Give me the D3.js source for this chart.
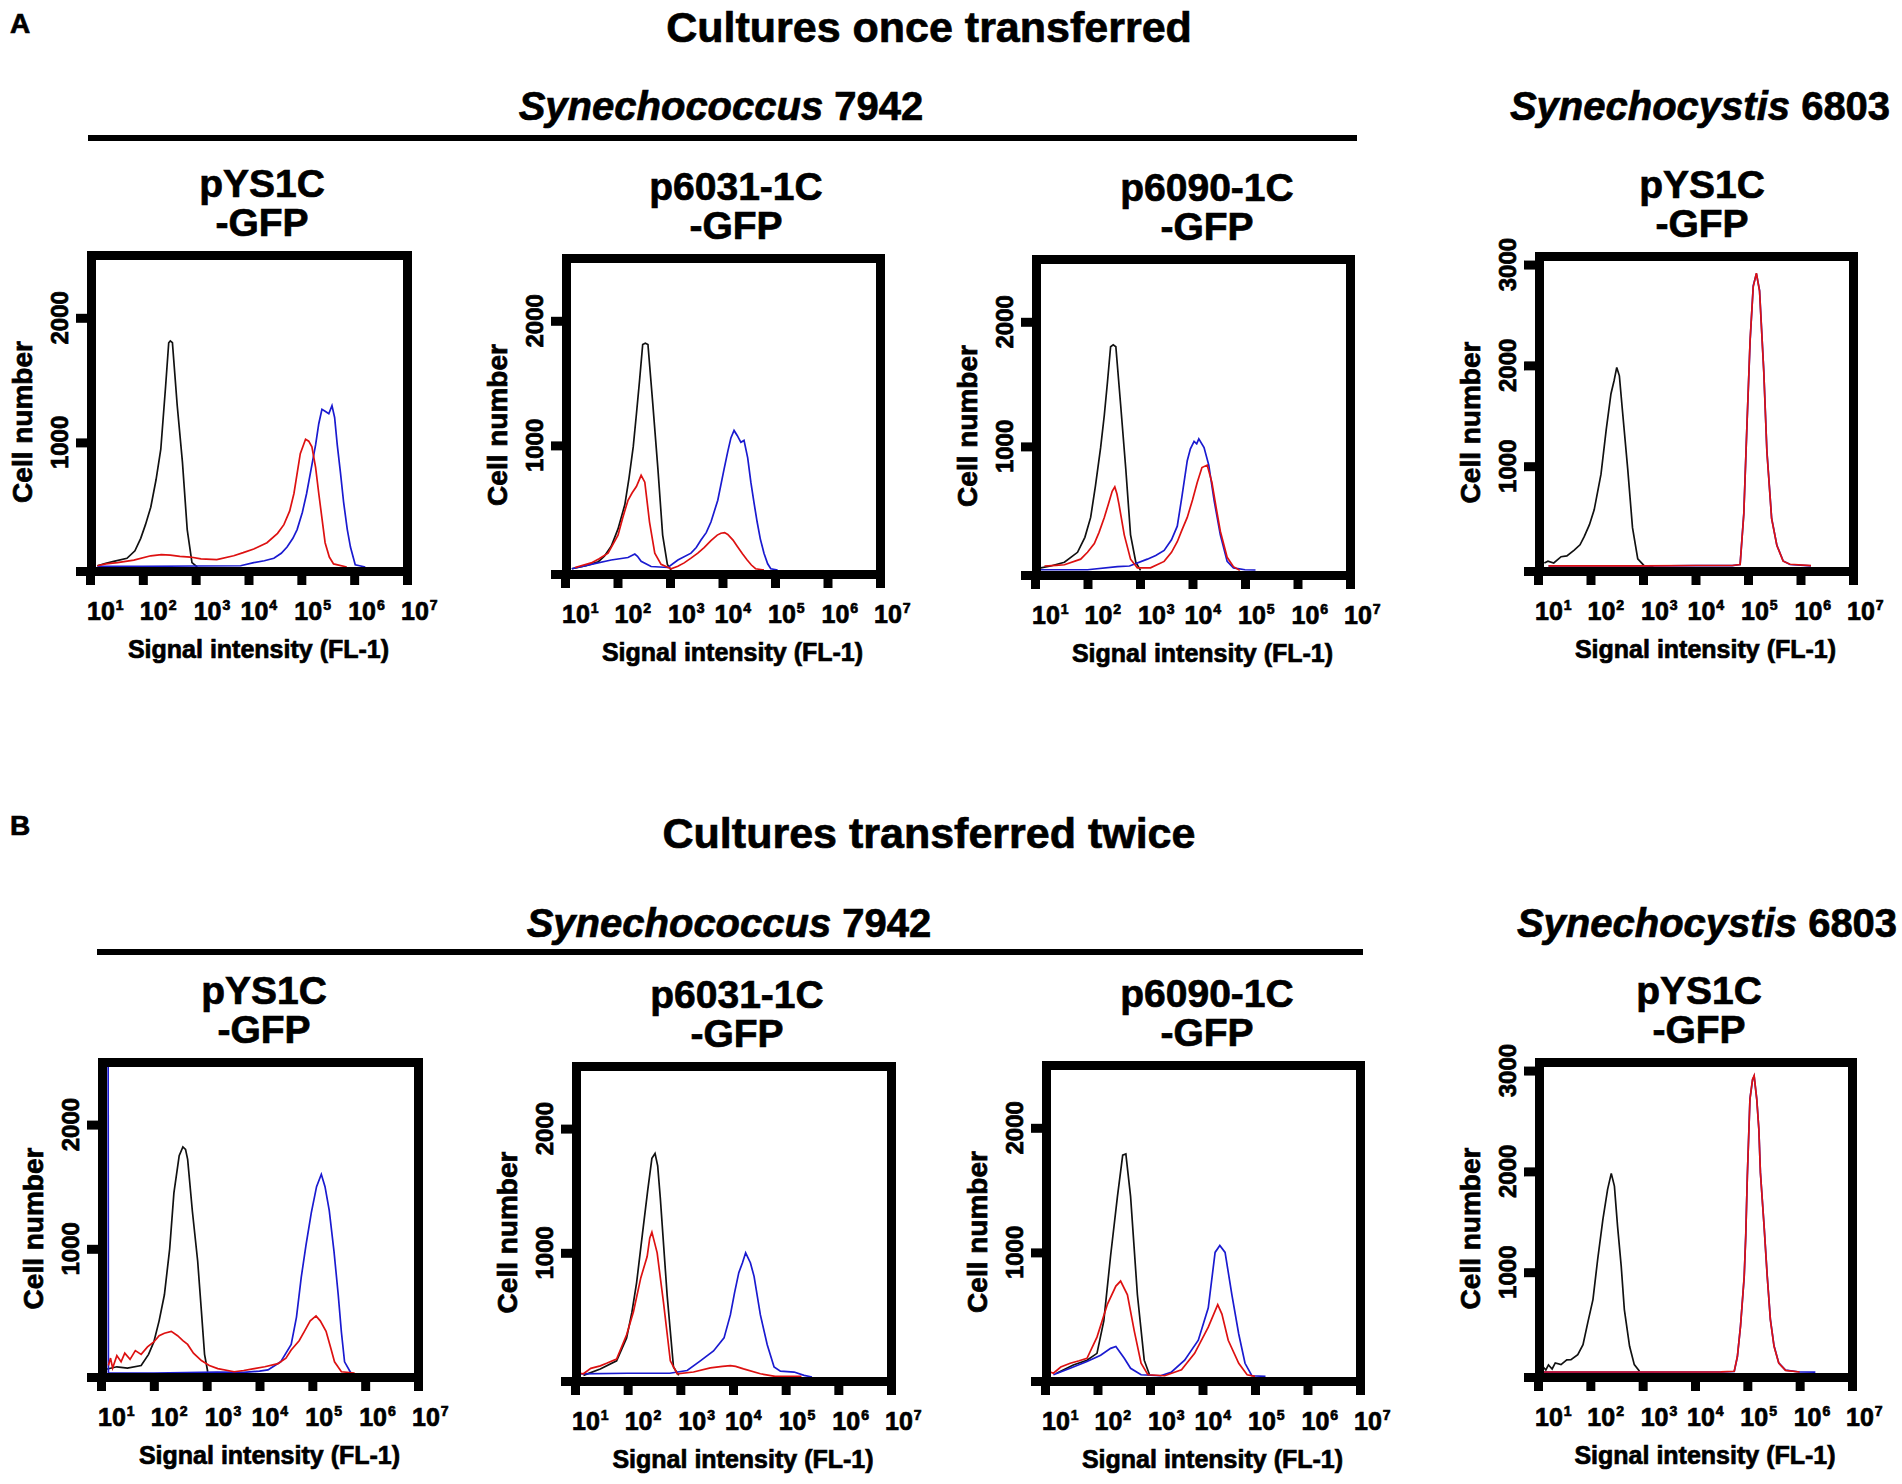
<!DOCTYPE html>
<html><head><meta charset="utf-8">
<script src="https://cdn.jsdelivr.net/npm/d3@7"></script>
<style>
body{margin:0;background:#fff}
svg{display:block}
text{font-family:"Liberation Sans",Arial,Helvetica,sans-serif;font-weight:bold;fill:#000;stroke:#000;stroke-width:0.7px}
</style>
</head><body>
<svg id="c" width="1902" height="1484"></svg>
<script>
// ---------------- DATA ----------------
// x values are log10(signal intensity), y values are cell counts
const xTickExponents = [1, 2, 3, 4, 5, 6, 7];
const yTicksLow = [1000, 2000];
const yTicksHigh = [1000, 2000, 3000];
const yMaxLow = 2500;
const yMaxHigh = 3080;

const rowTitles = ["Cultures once transferred", "Cultures transferred twice"];
const rowLetters = ["A", "B"];
const strainLeft = ["Synechococcus", " 7942"];
const strainRight = ["Synechocystis", " 6803"];
const panelNames = [["pYS1C", "-GFP"], ["p6031-1C", "-GFP"], ["p6090-1C", "-GFP"], ["pYS1C", "-GFP"]];
const xAxisTitle = "Signal intensity (FL-1)";
const yAxisTitle = "Cell number";

// Row A
const A1_black = [[1.14,10],[1.3,30],[1.45,45],[1.7,70],[1.85,130],[1.96,230],[2.05,340],[2.15,480],[2.25,700],[2.34,945],[2.43,1445],[2.49,1800],[2.52,1815],[2.56,1800],[2.65,1300],[2.75,840],[2.84,300],[2.93,35],[3.03,0]];
const A1_red = [[1.14,10],[1.3,25],[1.52,35],[1.83,55],[2.15,90],[2.35,100],[2.52,95],[2.7,85],[2.9,80],[3.1,65],[3.4,60],[3.72,90],[3.9,115],[4.1,145],[4.35,195],[4.55,270],[4.67,340],[4.78,450],[4.86,590],[4.98,910],[5.08,1025],[5.14,1010],[5.2,965],[5.27,800],[5.33,590],[5.45,195],[5.53,80],[5.61,25],[5.86,0]];
const A1_blue = [[1.14,5],[2.0,5],[3.0,8],[3.85,10],[4.1,35],[4.3,50],[4.48,70],[4.62,110],[4.73,160],[4.84,230],[4.92,300],[5.02,440],[5.1,590],[5.2,820],[5.27,980],[5.33,1150],[5.39,1265],[5.45,1250],[5.52,1230],[5.58,1295],[5.63,1200],[5.68,980],[5.74,760],[5.8,520],[5.87,300],[5.93,160],[6.02,18],[6.21,0]];

const A2_black = [[1.13,10],[1.4,35],[1.63,65],[1.75,110],[1.88,190],[2.01,330],[2.14,525],[2.22,740],[2.3,990],[2.36,1250],[2.42,1520],[2.48,1810],[2.53,1820],[2.58,1810],[2.67,1345],[2.77,810],[2.86,280],[2.95,45],[3.02,0]];
const A2_red = [[1.19,20],[1.5,57],[1.65,90],[1.82,135],[2.01,280],[2.1,420],[2.2,560],[2.28,620],[2.36,670],[2.45,760],[2.52,705],[2.61,385],[2.71,135],[2.83,45],[3.02,10],[3.15,30],[3.27,57],[3.4,95],[3.53,135],[3.65,180],[3.78,235],[3.9,280],[3.97,295],[4.04,300],[4.1,285],[4.2,240],[4.28,190],[4.38,130],[4.47,80],[4.55,40],[4.63,10],[4.79,0]];
const A2_blue = [[1.13,10],[1.5,45],[1.88,80],[2.2,100],[2.33,128],[2.38,110],[2.45,70],[2.64,28],[2.96,20],[3.15,80],[3.4,135],[3.5,180],[3.59,240],[3.69,300],[3.78,385],[3.91,560],[4.03,810],[4.1,950],[4.16,1060],[4.22,1120],[4.28,1080],[4.35,1025],[4.41,1040],[4.48,900],[4.54,705],[4.6,540],[4.66,385],[4.72,250],[4.79,135],[4.86,50],[4.92,10],[5.05,0]];

const A3_black = [[1.11,25],[1.3,40],[1.56,70],[1.81,150],[1.95,270],[2.06,430],[2.15,680],[2.25,990],[2.32,1250],[2.38,1515],[2.44,1800],[2.49,1815],[2.54,1800],[2.63,1340],[2.73,815],[2.82,290],[2.92,70],[3.01,5]];
const A3_red = [[1.18,40],[1.4,45],[1.56,50],[1.87,95],[2.0,150],[2.13,220],[2.22,310],[2.32,430],[2.4,540],[2.47,640],[2.52,675],[2.56,620],[2.6,535],[2.7,290],[2.82,95],[2.95,25],[3.2,25],[3.46,77],[3.6,150],[3.71,235],[3.8,330],[3.9,430],[4.0,570],[4.09,710],[4.18,830],[4.28,850],[4.37,710],[4.45,510],[4.53,320],[4.66,110],[4.78,35],[4.9,5]];
const A3_blue = [[1.11,10],[2.0,10],[2.57,35],[2.8,40],[3.14,95],[3.3,125],[3.46,165],[3.6,250],[3.71,360],[3.8,600],[3.9,885],[3.96,980],[4.03,1040],[4.08,1020],[4.12,1060],[4.22,990],[4.31,850],[4.41,570],[4.53,290],[4.66,77],[4.78,25],[5.0,10],[5.2,8]];

const A4_black = [[1.12,40],[1.19,58],[1.3,40],[1.44,102],[1.55,110],[1.69,168],[1.8,220],[1.88,301],[1.98,420],[2.07,567],[2.2,921],[2.3,1365],[2.39,1719],[2.45,1850],[2.5,1980],[2.55,1896],[2.61,1542],[2.71,966],[2.8,390],[2.9,80],[3.02,13],[3.2,5]];
const A4_red = [[1.2,12],[2.0,12],[3.0,12],[4.0,15],[4.7,15],[4.85,25],[4.92,523],[4.98,1409],[5.04,2251],[5.1,2782],[5.16,2915],[5.22,2738],[5.3,1941],[5.36,1143],[5.45,479],[5.55,213],[5.67,58],[5.8,27],[6.2,13]];
const A4_blue = [[1.2,10],[2.0,10],[3.0,10],[4.0,14],[4.7,14],[4.85,25],[4.92,530],[4.98,1400],[5.04,2240],[5.1,2790],[5.16,2910],[5.22,2745],[5.3,1950],[5.36,1150],[5.45,485],[5.55,215],[5.67,60],[5.8,25],[6.2,12]];

// Row B
const B1_black = [[1.1,30],[1.3,50],[1.5,40],[1.76,60],[1.9,150],[2.0,250],[2.1,420],[2.2,630],[2.3,1000],[2.38,1450],[2.48,1750],[2.55,1820],[2.6,1800],[2.64,1720],[2.73,1300],[2.83,900],[2.9,500],[2.96,150],[3.02,10]];
const B1_red = [[1.14,60],[1.18,120],[1.22,40],[1.3,140],[1.38,90],[1.45,160],[1.55,110],[1.65,180],[1.76,150],[1.88,210],[2.0,250],[2.1,300],[2.2,320],[2.33,335],[2.45,300],[2.55,260],[2.64,230],[2.75,160],[2.9,100],[3.05,60],[3.21,35],[3.52,10],[3.7,20],[3.9,35],[4.1,50],[4.35,75],[4.5,120],[4.6,185],[4.75,260],[4.85,335],[4.96,420],[5.07,460],[5.15,420],[5.26,335],[5.35,200],[5.42,90],[5.55,10],[5.8,0]];
const B1_blue = [[1.135,2600],[1.14,0],[2.0,0],[3.2,8],[3.7,5],[4.0,15],[4.16,25],[4.4,90],[4.6,230],[4.7,450],[4.79,770],[4.88,1030],[4.98,1290],[5.08,1500],[5.17,1600],[5.24,1500],[5.32,1310],[5.41,980],[5.49,630],[5.55,330],[5.61,90],[5.73,0]];

const B2_black = [[1.16,13],[1.48,65],[1.79,130],[1.98,315],[2.08,520],[2.17,760],[2.28,1150],[2.38,1500],[2.46,1760],[2.52,1800],[2.57,1700],[2.62,1440],[2.75,655],[2.87,80],[2.97,13]];
const B2_red = [[1.1,30],[1.16,26],[1.3,70],[1.48,90],[1.6,110],[1.79,145],[1.98,340],[2.11,525],[2.25,800],[2.37,970],[2.42,1120],[2.46,1166],[2.5,1100],[2.56,1000],[2.68,600],[2.81,130],[2.94,26],[3.25,40],[3.57,73],[3.8,85],[3.95,92],[4.05,85],[4.2,65],[4.52,26],[4.8,5],[5.3,5]];
const B2_blue = [[1.1,25],[2.0,30],[2.8,30],[3.13,52],[3.38,130],[3.63,210],[3.83,315],[3.95,500],[4.03,680],[4.11,840],[4.18,920],[4.24,1000],[4.33,920],[4.4,810],[4.52,500],[4.65,260],[4.78,80],[4.9,47],[5.16,40],[5.35,13],[5.5,0]];

const B3_black = [[1.22,30],[1.54,97],[1.8,135],[1.99,190],[2.12,450],[2.25,975],[2.38,1450],[2.48,1780],[2.54,1790],[2.63,1450],[2.76,660],[2.89,135],[2.99,18]];
const B3_red = [[1.1,40],[1.16,30],[1.3,80],[1.48,110],[1.65,130],[1.8,150],[1.99,320],[2.19,585],[2.35,730],[2.44,770],[2.57,660],[2.7,370],[2.83,110],[2.96,18],[3.28,10],[3.6,58],[3.85,190],[4.11,400],[4.29,580],[4.37,505],[4.49,295],[4.69,110],[4.85,18],[5.0,5]];
const B3_blue = [[1.16,18],[1.48,70],[1.8,125],[2.06,175],[2.25,230],[2.35,245],[2.51,150],[2.63,70],[2.83,18],[3.2,10],[3.4,37],[3.66,135],[3.92,295],[4.11,555],[4.24,1000],[4.33,1055],[4.43,1000],[4.56,660],[4.69,345],[4.81,110],[4.94,10],[5.2,5]];

const B4_black = [[1.1,60],[1.15,30],[1.2,80],[1.27,40],[1.33,100],[1.44,83],[1.55,130],[1.63,132],[1.76,182],[1.86,281],[1.95,497],[2.05,728],[2.14,1126],[2.24,1523],[2.33,1821],[2.4,1980],[2.46,1854],[2.52,1457],[2.59,1060],[2.65,629],[2.75,265],[2.84,83],[2.94,17]];
const B4_red = [[1.1,10],[3.0,10],[4.5,12],[4.75,17],[4.81,166],[4.87,464],[4.94,960],[4.97,1358],[5.0,1954],[5.05,2715],[5.1,2914],[5.13,2950],[5.18,2715],[5.22,2417],[5.25,1987],[5.32,1457],[5.38,960],[5.44,530],[5.51,265],[5.6,99],[5.73,26],[6.0,10]];
const B4_blue = [[1.1,8],[3.0,8],[4.5,10],[4.75,15],[4.81,160],[4.87,470],[4.94,950],[4.97,1370],[5.0,1950],[5.05,2720],[5.1,2910],[5.13,2945],[5.18,2720],[5.22,2420],[5.25,1990],[5.32,1460],[5.38,965],[5.44,535],[5.51,270],[5.6,100],[5.73,28],[6.0,10],[6.3,8]];

// ---------------- LAYOUT ----------------
const SW = 9;
const labelNudge = [-3, -3, -2, -8, -7, -6, -6];
const panels = [
  {L:87,  R:412,  T:251,  A:567,  tx:262,  M:yMaxLow,  yt:yTicksLow,  name:0, k:A1_black, r:A1_red, b:A1_blue},
  {L:562, R:885,  T:254,  A:570,  tx:736,  M:yMaxLow,  yt:yTicksLow,  name:1, k:A2_black, r:A2_red, b:A2_blue},
  {L:1032,R:1355, T:255,  A:571,  tx:1207, M:yMaxLow,  yt:yTicksLow,  name:2, k:A3_black, r:A3_red, b:A3_blue},
  {L:1535,R:1858, T:252,  A:567,  tx:1702, M:yMaxHigh, yt:yTicksHigh, name:3, k:A4_black, r:A4_red, b:A4_blue},
  {L:98,  R:423,  T:1058, A:1373, tx:264,  M:yMaxLow,  yt:yTicksLow,  name:0, k:B1_black, r:B1_red, b:B1_blue},
  {L:572, R:896,  T:1062, A:1377, tx:737,  M:yMaxLow,  yt:yTicksLow,  name:1, k:B2_black, r:B2_red, b:B2_blue},
  {L:1042,R:1365, T:1061, A:1377, tx:1207, M:yMaxLow,  yt:yTicksLow,  name:2, k:B3_black, r:B3_red, b:B3_blue},
  {L:1535,R:1857, T:1058, A:1373, tx:1699, M:yMaxHigh, yt:yTicksHigh, name:3, k:B4_black, r:B4_red, b:B4_blue}
];
const rows = [
  {letterY:33,  titleY:42,  subY:120, lineY:138, lineX1:88, lineX2:1357, subLX:721, subRX:1700},
  {letterY:835, titleY:848, subY:937, lineY:952, lineX1:97, lineX2:1363, subLX:729, subRX:1707}
];
const colors = {black:"#111111", red:"#dd1111", blue:"#1a1ad0"};

// ---------------- DRAW ----------------
const svg = d3.select("#c");
svg.append("rect").attr("width",1902).attr("height",1484).attr("fill","#fff");
const defs = svg.append("defs");

rows.forEach((rw, i) => {
  svg.append("text").attr("x",10).attr("y",rw.letterY).attr("font-size",28).text(rowLetters[i]);
  svg.append("text").attr("x",929).attr("y",rw.titleY).attr("font-size",43).attr("text-anchor","middle").text(rowTitles[i]);
  const sl = svg.append("text").attr("x",rw.subLX).attr("y",rw.subY).attr("font-size",40).attr("text-anchor","middle");
  sl.append("tspan").attr("font-style","italic").text(strainLeft[0]);
  sl.append("tspan").text(strainLeft[1]);
  const sr = svg.append("text").attr("x",rw.subRX).attr("y",rw.subY).attr("font-size",40).attr("text-anchor","middle");
  sr.append("tspan").attr("font-style","italic").text(strainRight[0]);
  sr.append("tspan").text(strainRight[1]);
  svg.append("line").attr("x1",rw.lineX1).attr("x2",rw.lineX2).attr("y1",rw.lineY).attr("y2",rw.lineY)
    .attr("stroke","#000").attr("stroke-width",6);
});

panels.forEach((p, i) => {
  const g = svg.append("g");
  const x = d3.scaleLog().domain([10, 1e7]).range([p.L + 3, p.R - 5]);
  const y = d3.scaleLinear().domain([0, p.M]).range([p.A, p.T + SW/2]);
  const cx = (p.L + p.R) / 2;

  const cid = "clip" + i;
  defs.append("clipPath").attr("id", cid).append("rect")
    .attr("x", p.L + SW/2).attr("y", p.T + SW/2)
    .attr("width", p.R - p.L - SW).attr("height", p.A - p.T - SW/2 + 1);

  const line = d3.line().x(d => x(Math.pow(10, d[0]))).y(d => y(d[1]));
  const cg = g.append("g").attr("clip-path", `url(#${cid})`);
  [["black", p.k], ["blue", p.b], ["red", p.r]].forEach(([c, data]) => {
    cg.append("path").datum(data).attr("d", line)
      .attr("fill","none").attr("stroke", colors[c]).attr("stroke-width", 1.7)
      .attr("stroke-linejoin","miter");
  });

  // frame
  g.append("rect").attr("x", p.L + SW/2).attr("y", p.T + SW/2)
    .attr("width", p.R - p.L - SW).attr("height", p.A - p.T)
    .attr("fill","none").attr("stroke","#000").attr("stroke-width", SW);
  // zero tick extension of baseline
  g.append("line").attr("x1", p.L - 11).attr("x2", p.L + 1).attr("y1", p.A + SW/2).attr("y2", p.A + SW/2)
    .attr("stroke","#000").attr("stroke-width", SW);

  // y axis ticks
  const ya = g.append("g").attr("transform", `translate(${p.L},0)`)
    .call(d3.axisLeft(y).tickValues(p.yt).tickSize(11).tickFormat(""));
  ya.select(".domain").remove();
  ya.selectAll(".tick line").attr("stroke","#000").attr("stroke-width", SW);
  p.yt.forEach(v => {
    g.append("text").attr("transform", `translate(${p.L - 19},${y(v)}) rotate(-90)`)
      .attr("text-anchor","middle").attr("font-size",24).text(v);
  });

  // x axis ticks
  const xa = g.append("g").attr("transform", `translate(0,${p.A + SW - 1})`)
    .call(d3.axisBottom(x).tickValues(xTickExponents.map(e => Math.pow(10, e))).tickSize(10).tickFormat(""));
  xa.select(".domain").remove();
  xa.selectAll(".tick line").attr("stroke","#000").attr("stroke-width", SW);
  xTickExponents.forEach((e, j) => {
    const t = g.append("text").attr("x", x(Math.pow(10, e)) + labelNudge[j]).attr("y", p.A + 53)
      .attr("font-size", 25);
    t.append("tspan").text("10");
    t.append("tspan").attr("font-size", 14).attr("dy", -10).attr("dx", 1).text(e);
  });

  // axis titles
  g.append("text").attr("x", cx + 9).attr("y", p.A + 91).attr("text-anchor","middle").attr("font-size",25).text(xAxisTitle);
  g.append("text").attr("transform", `translate(${p.L - 55},${(p.T + p.A)/2 + 13}) rotate(-90)`)
    .attr("text-anchor","middle").attr("font-size",28).text(yAxisTitle);

  // panel title
  g.append("text").attr("x", p.tx).attr("y", p.T - 54).attr("text-anchor","middle").attr("font-size",39).text(panelNames[p.name][0]);
  g.append("text").attr("x", p.tx).attr("y", p.T - 15).attr("text-anchor","middle").attr("font-size",39).text(panelNames[p.name][1]);
});
</script>
</body></html>
